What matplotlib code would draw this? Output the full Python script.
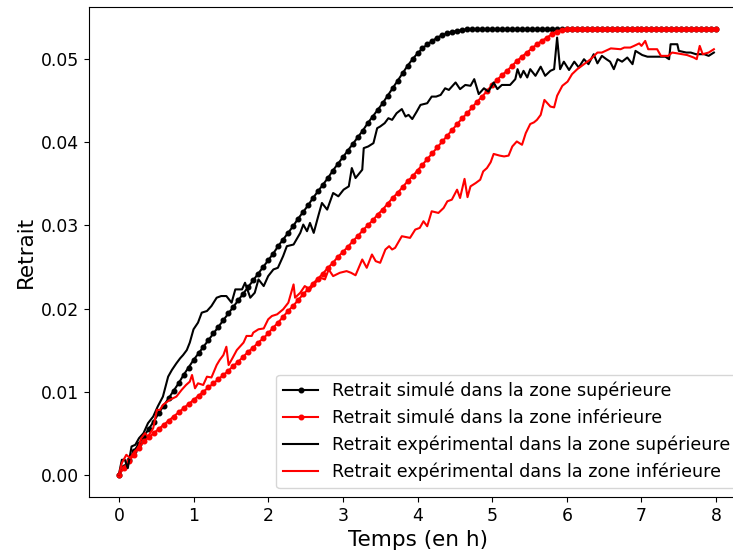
import numpy as np
from matplotlib import pyplot as plt

# temps des points simules (un point toutes les 4 min, de 0 a 8 h)
t_sim = np.arange(0, 481, 4) / 60.0

# retrait simule, zone superieure
sim_sup = [0.0, 0.0009, 0.0018, 0.0028, 0.0037, 0.0046, 0.0055, 0.0064, 0.0074, 0.0083, 0.0092,
           0.0101, 0.0110, 0.0120, 0.0129, 0.0138,
           0.0146, 0.0154, 0.0162, 0.0170, 0.0178, 0.0186, 0.0194, 0.0202, 0.0210, 0.0218,
           0.0226, 0.0234, 0.0242, 0.0250, 0.0258,
           0.0266, 0.0275, 0.0283, 0.0291, 0.0299, 0.0308, 0.0316, 0.0324, 0.0333, 0.0341,
           0.0349, 0.0357, 0.0366, 0.0374, 0.0382,
           0.0390, 0.0398, 0.0406, 0.0414, 0.0423, 0.0431, 0.0439, 0.0447, 0.0456, 0.0465,
           0.0474, 0.0483, 0.0492, 0.0500, 0.0507,
           0.0513, 0.0518, 0.0522, 0.0526, 0.0529, 0.0531, 0.0533, 0.0534, 0.0535, 0.0536,
           0.0536, 0.0536, 0.0536, 0.0536, 0.0536,
           0.0536, 0.0536, 0.0536, 0.0536, 0.0536, 0.0536, 0.0536, 0.0536, 0.0536, 0.0536,
           0.0536, 0.0536, 0.0536, 0.0536, 0.0536, 0.0536, 0.0536, 0.0536, 0.0536, 0.0536,
           0.0536, 0.0536, 0.0536, 0.0536, 0.0536, 0.0536, 0.0536, 0.0536, 0.0536, 0.0536,
           0.0536, 0.0536, 0.0536, 0.0536, 0.0536, 0.0536, 0.0536, 0.0536, 0.0536, 0.0536,
           0.0536, 0.0536, 0.0536, 0.0536, 0.0536]

# retrait simule, zone inferieure
sim_inf = [0.0, 0.0008, 0.0016, 0.0024, 0.0032, 0.0040, 0.0045, 0.0050, 0.0055, 0.0060, 0.0065,
           0.0070, 0.0075, 0.0080, 0.0085, 0.0090,
           0.0095, 0.0100, 0.0105, 0.0110, 0.0115, 0.0120, 0.0125, 0.0131, 0.0136, 0.0142,
           0.0148, 0.0153, 0.0159, 0.0164, 0.0170,
           0.0177, 0.0183, 0.0190, 0.0197, 0.0203, 0.0210, 0.0217, 0.0223, 0.0230, 0.0236,
           0.0242, 0.0249, 0.0255, 0.0262, 0.0268,
           0.0274, 0.0281, 0.0287, 0.0294, 0.0300, 0.0306, 0.0313, 0.0319, 0.0326, 0.0333,
           0.0339, 0.0346, 0.0353, 0.0359, 0.0366,
           0.0373, 0.0380, 0.0387, 0.0394, 0.0401, 0.0408, 0.0415, 0.0422, 0.0429, 0.0435,
           0.0442, 0.0449, 0.0455, 0.0462, 0.0469,
           0.0475, 0.0481, 0.0486, 0.0492, 0.0498, 0.0503, 0.0508, 0.0513, 0.0518, 0.0522,
           0.0526, 0.0530, 0.0533, 0.0535, 0.0536,
           0.0536, 0.0536, 0.0536, 0.0536, 0.0536, 0.0536, 0.0536, 0.0536, 0.0536, 0.0536,
           0.0536, 0.0536, 0.0536, 0.0536, 0.0536, 0.0536, 0.0536, 0.0536, 0.0536, 0.0536,
           0.0536, 0.0536, 0.0536, 0.0536, 0.0536, 0.0536, 0.0536, 0.0536, 0.0536, 0.0536]

# mesures experimentales, zone superieure
t_exp_sup = [0.0, 0.04, 0.08, 0.12, 0.17, 0.22, 0.27, 0.33, 0.39, 0.46, 0.52, 0.59, 0.66, 0.71,
             0.77, 0.82, 0.86, 0.91, 0.95, 1.00, 1.06, 1.11, 1.18, 1.24, 1.31, 1.37, 1.44, 1.51,
             1.56, 1.65, 1.69, 1.76, 1.82, 1.87, 1.94, 2.00, 2.07, 2.13, 2.20, 2.25, 2.34, 2.43,
             2.47, 2.52, 2.56, 2.61, 2.67, 2.72, 2.79, 2.83, 2.87, 2.94, 3.01, 3.08, 3.12, 3.17,
             3.26, 3.28, 3.34, 3.41, 3.46, 3.50, 3.56, 3.61, 3.66, 3.72, 3.79, 3.84, 3.88, 3.93,
             3.99, 4.04, 4.13, 4.19, 4.25, 4.31, 4.37, 4.42, 4.46, 4.51, 4.57, 4.64, 4.71, 4.76,
             4.82, 4.89, 4.95, 5.02, 5.07, 5.13, 5.24, 5.31, 5.34, 5.38, 5.42, 5.47, 5.51, 5.58,
             5.65, 5.71, 5.78, 5.83, 5.87, 5.91, 5.96, 6.03, 6.10, 6.16, 6.23, 6.29, 6.36, 6.41,
             6.47, 6.53, 6.58, 6.63, 6.68, 6.74, 6.81, 6.88, 6.92, 7.01, 7.08, 7.20, 7.32, 7.37,
             7.39, 7.48, 7.50, 7.60, 7.66, 7.73, 7.84, 7.90, 7.97]
exp_sup = [0.0, 0.0018, 0.0018, 0.0008, 0.0034, 0.0036, 0.0044, 0.0050, 0.0062, 0.0070, 0.0082,
           0.0094, 0.0118, 0.0126, 0.0134, 0.0140, 0.0144, 0.0150, 0.0159, 0.0175, 0.0183,
           0.0195, 0.0197, 0.0203, 0.0213, 0.0215, 0.0215, 0.0207, 0.0223, 0.0223, 0.0231,
           0.0213, 0.0219, 0.0235, 0.0227, 0.0239, 0.0247, 0.0249, 0.0263, 0.0275, 0.0277,
           0.0291, 0.0301, 0.0293, 0.0303, 0.0291, 0.0311, 0.0327, 0.0319, 0.0329, 0.0339,
           0.0335, 0.0343, 0.0347, 0.0369, 0.0357, 0.0367, 0.0393, 0.0395, 0.0399, 0.0417,
           0.0419, 0.0423, 0.0429, 0.0427, 0.0435, 0.0440, 0.0431, 0.0433, 0.0428, 0.0437,
           0.0445, 0.0447, 0.0455, 0.0455, 0.0457, 0.0465, 0.0463, 0.0467, 0.0472, 0.0464,
           0.0469, 0.0468, 0.0476, 0.0458, 0.0465, 0.0461, 0.0472, 0.0464, 0.0469, 0.0469,
           0.0476, 0.0488, 0.0478, 0.0486, 0.0478, 0.0488, 0.0480, 0.0491, 0.0480, 0.0486,
           0.0488, 0.0526, 0.0488, 0.0497, 0.0487, 0.0497, 0.0490, 0.0500, 0.0494, 0.0506,
           0.0495, 0.0504, 0.0500, 0.0497, 0.0488, 0.0500, 0.0497, 0.0502, 0.0494, 0.0510,
           0.0505, 0.0503, 0.0503, 0.0503, 0.0500, 0.0518, 0.0518, 0.0510, 0.0508, 0.0508,
           0.0506, 0.0506, 0.0504, 0.0508]

# mesures experimentales, zone inferieure
t_exp_inf = [0.0, 0.04, 0.10, 0.15, 0.21, 0.26, 0.30, 0.35, 0.39, 0.46, 0.51, 0.55, 0.59, 0.68,
             0.77, 0.84, 0.90, 0.95, 0.98, 1.02, 1.06, 1.13, 1.18, 1.24, 1.31, 1.35, 1.40, 1.44,
             1.47, 1.52, 1.58, 1.67, 1.71, 1.78, 1.80, 1.87, 1.94, 2.00, 2.05, 2.12, 2.20, 2.27,
             2.34, 2.36, 2.43, 2.49, 2.56, 2.63, 2.70, 2.76, 2.81, 2.87, 2.96, 3.05, 3.11, 3.17,
             3.26, 3.32, 3.39, 3.44, 3.50, 3.57, 3.62, 3.66, 3.70, 3.79, 3.90, 3.97, 4.03, 4.08,
             4.13, 4.19, 4.28, 4.35, 4.40, 4.46, 4.53, 4.57, 4.63, 4.67, 4.71, 4.78, 4.84, 4.88,
             4.93, 4.98, 5.02, 5.10, 5.16, 5.22, 5.27, 5.33, 5.40, 5.45, 5.51, 5.56, 5.60, 5.65,
             5.70, 5.78, 5.83, 5.87, 5.94, 6.01, 6.07, 6.14, 6.23, 6.32, 6.41, 6.47, 6.59, 6.72,
             6.77, 6.85, 6.90, 6.97, 7.00, 7.05, 7.09, 7.21, 7.26, 7.36, 7.41, 7.48, 7.61, 7.70,
             7.74, 7.78, 7.82, 7.90, 7.97]
exp_inf = [0.0, 0.0014, 0.0024, 0.0020, 0.0028, 0.0032, 0.0044, 0.0050, 0.0046, 0.0056, 0.0078,
           0.0078, 0.0084, 0.0090, 0.0094, 0.0102, 0.0108, 0.0112, 0.0120, 0.0104, 0.0110,
           0.0108, 0.0118, 0.0117, 0.0132, 0.0138, 0.0144, 0.0154, 0.0132, 0.0140, 0.0150,
           0.0159, 0.0167, 0.0167, 0.0171, 0.0175, 0.0176, 0.0187, 0.0191, 0.0193, 0.0199,
           0.0207, 0.0229, 0.0213, 0.0219, 0.0227, 0.0223, 0.0231, 0.0237, 0.0235, 0.0247,
           0.0239, 0.0243, 0.0245, 0.0243, 0.0240, 0.0259, 0.0249, 0.0265, 0.0257, 0.0255,
           0.0271, 0.0275, 0.0271, 0.0273, 0.0287, 0.0285, 0.0295, 0.0297, 0.0305, 0.0299,
           0.0317, 0.0315, 0.0321, 0.0329, 0.0331, 0.0343, 0.0333, 0.0356, 0.0334, 0.0347,
           0.0351, 0.0355, 0.0365, 0.0369, 0.0376, 0.0386, 0.0384, 0.0383, 0.0384, 0.0395,
           0.0401, 0.0397, 0.0411, 0.0422, 0.0424, 0.0427, 0.0433, 0.0451, 0.0443, 0.0442,
           0.0456, 0.0468, 0.0473, 0.0482, 0.0488, 0.0494, 0.0500, 0.0508, 0.0508, 0.0513,
           0.0512, 0.0514, 0.0514, 0.0516, 0.0519, 0.0516, 0.0522, 0.0512, 0.0512, 0.0504,
           0.0504, 0.0508, 0.0507, 0.0505, 0.0502, 0.0500, 0.0516, 0.0506, 0.0508, 0.0512]

fig = plt.figure(figsize=(7.33, 5.54), dpi=100)
# l'axe depasse a droite de l'image (figure rognee dans l'original)
ax = fig.add_axes([89 / 733, 57 / 554, 657 / 733, 490 / 554])

ax.plot(t_sim, sim_sup, 'k-o', lw=1.5, markersize=3.3, label=u'Retrait simulé dans la zone supérieure')
ax.plot(t_sim, sim_inf, 'r-o', lw=1.5, markersize=3.3, label=u'Retrait simulé dans la zone inférieure')
ax.plot(t_exp_sup, exp_sup, 'k-', lw=1.5, label=u'Retrait expérimental dans la zone supérieure')
ax.plot(t_exp_inf, exp_inf, 'r-', lw=1.5, label=u'Retrait expérimental dans la zone inférieure')

ax.set_xlabel('Temps (en h)', fontsize=15.5)
ax.set_ylabel('Retrait', fontsize=15.5)
ax.tick_params(axis='both', labelsize=12.4)
ax.legend(loc='lower right', fontsize=12.6)

plt.savefig('out.png', dpi=100)
